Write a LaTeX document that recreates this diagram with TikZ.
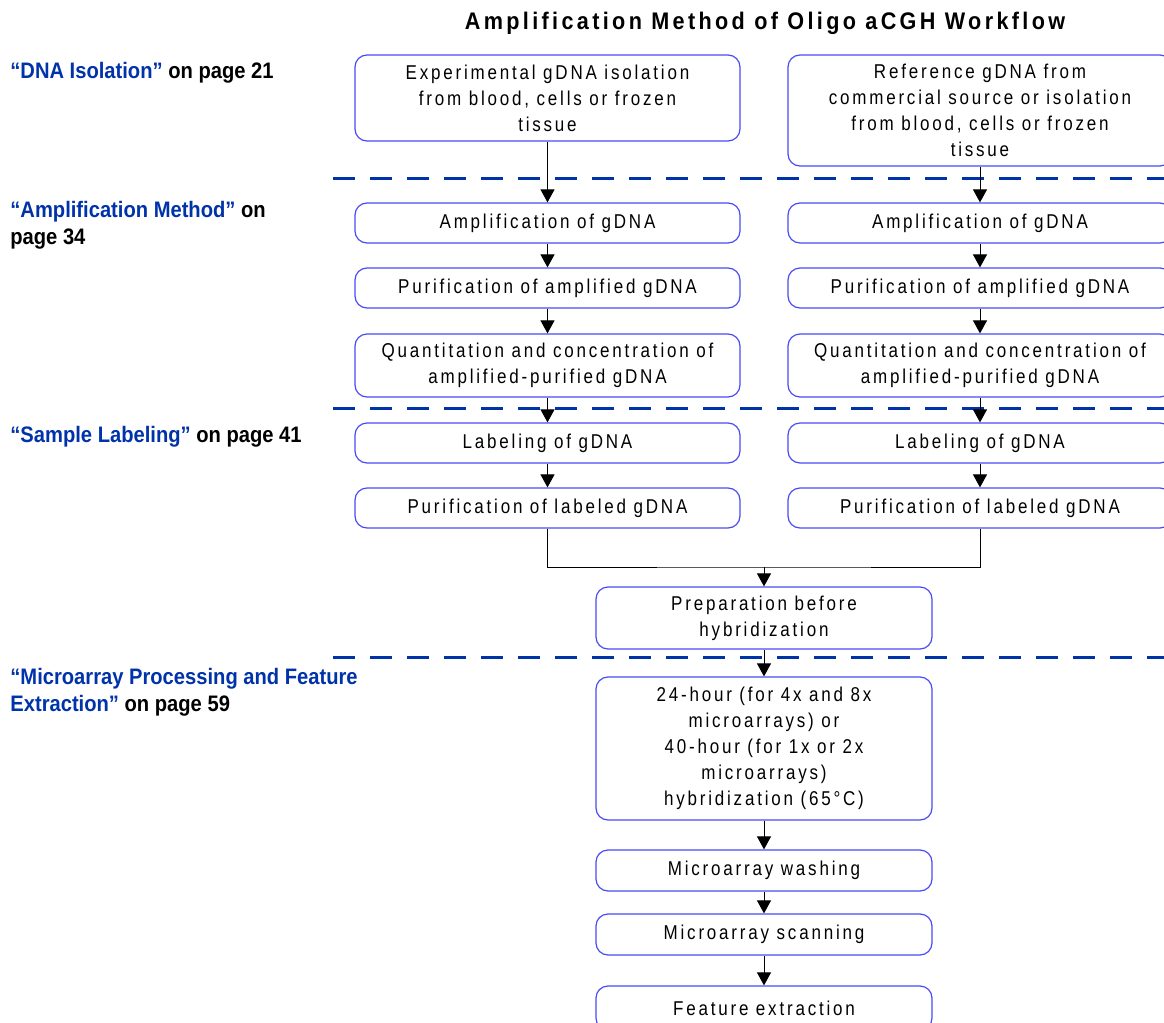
\documentclass[tikz,border=0pt]{standalone}
\usepackage{fontspec}
\setmainfont{Liberation Sans}
\newfontfamily\boxfont[FakeStretch=0.85,LetterSpace=14]{Liberation Sans}
\newfontfamily\titlefont[FakeStretch=0.9,LetterSpace=14]{Liberation Sans}
\newfontfamily\labfont[FakeStretch=0.9]{Liberation Sans}
\usetikzlibrary{arrows.meta}
\definecolor{linkblue}{HTML}{0033AA}
\definecolor{boxblue}{HTML}{4A4AF5}
\newcommand{\lnk}[1]{\textcolor{linkblue}{#1}}
\begin{document}
\begin{tikzpicture}[x=0.5pt,y=-0.5pt,
  stepbox/.style={draw=boxblue, line width=0.6pt, rounded corners=6pt, align=center,
    inner sep=0pt, font=\boxfont\fontsize{10}{13}\selectfont},
  colbox/.style={stepbox, minimum width=192.5pt},
  rcolbox/.style={stepbox, minimum width=192pt},
  midbox/.style={stepbox, minimum width=168pt},
  flow/.style={-{Triangle[width=7pt,length=6.5pt]}, line width=0.5pt},
  sep/.style={draw=linkblue, line width=1.5pt, dash pattern=on 11pt off 7.5pt},
  sect/.style={anchor=base west, align=left, inner sep=0pt,
    font=\labfont\bfseries\fontsize{11.2}{13.5}\selectfont}]
\useasboundingbox (0,0) rectangle (1164,1023);
\node[font=\titlefont\bfseries\fontsize{12}{14}\selectfont] (title) at (765,23) {Amplification Method of Oligo aCGH Workflow};

% section references
\node[sect] (sec1) at (10,78) {\lnk{“DNA Isolation”} on page 21};
\node[sect, anchor=north west] (sec2) at (10,201) {\lnk{“Amplification Method”} on\\page 34};
\node[sect] (sec3) at (10,442) {\lnk{“Sample Labeling”} on page 41};
\node[sect, anchor=north west] (sec4) at (10,668) {\lnk{“Microarray Processing and Feature}\\\lnk{Extraction”} on page 59};

% section separators
\draw[sep] (333,178) -- (1164,178);
\draw[sep] (333,408) -- (1164,408);
\draw[sep] (333,657) -- (1164,657);

% experimental column
\node[colbox, minimum height=43pt] (exp0) at (547.5,98) {Experimental gDNA isolation\\from blood, cells or frozen\\tissue};
\node[colbox, minimum height=20pt] (exp1) at (547.5,223) {Amplification of gDNA};
\node[colbox, minimum height=20pt] (exp2) at (547.5,288) {Purification of amplified gDNA};
\node[colbox, minimum height=31.5pt] (exp3) at (547.5,365.5) {Quantitation and concentration of\\amplified-purified gDNA};
\node[colbox, minimum height=20pt] (exp4) at (547.5,443) {Labeling of gDNA};
\node[colbox, minimum height=20pt] (exp5) at (547.5,508) {Purification of labeled gDNA};

% reference column
\node[rcolbox, minimum height=55.5pt] (ref0) at (980,110.5) {Reference gDNA from\\commercial source or isolation\\from blood, cells or frozen\\tissue};
\node[rcolbox, minimum height=20pt] (ref1) at (980,223) {Amplification of gDNA};
\node[rcolbox, minimum height=20pt] (ref2) at (980,288) {Purification of amplified gDNA};
\node[rcolbox, minimum height=31.5pt] (ref3) at (980,365.5) {Quantitation and concentration of\\amplified-purified gDNA};
\node[rcolbox, minimum height=20pt] (ref4) at (980,443) {Labeling of gDNA};
\node[rcolbox, minimum height=20pt] (ref5) at (980,508) {Purification of labeled gDNA};

% joint steps
\coordinate (join) at (764,567);
\node[midbox, minimum height=31pt] (prep) at (764,618) {Preparation before\\hybridization};
\node[midbox, minimum height=71.5pt] (hyb) at (764,748.5) {24-hour (for 4x and 8x\\microarrays) or\\40-hour (for 1x or 2x\\microarrays)\\hybridization (65°C)};
\node[midbox, minimum height=20.5pt] (wash) at (764,870.5) {Microarray washing};
\node[midbox, minimum height=20.5pt] (scan) at (764,934.5) {Microarray scanning};
\node[midbox, minimum height=22pt] (feat) at (764,1008) {Feature extraction};

\foreach \a/\b in {exp0/exp1, exp1/exp2, exp2/exp3, exp3/exp4, exp4/exp5,
  ref0/ref1, ref1/ref2, ref2/ref3, ref3/ref4, ref4/ref5,
  prep/hyb, hyb/wash, wash/scan, scan/feat}
  \draw[flow] (\a) -- (\b);
\draw[line width=0.5pt] (exp5.south) |- (join) -| (ref5.south);
\draw[flow] (join) -- (prep);
\end{tikzpicture}
\end{document}
